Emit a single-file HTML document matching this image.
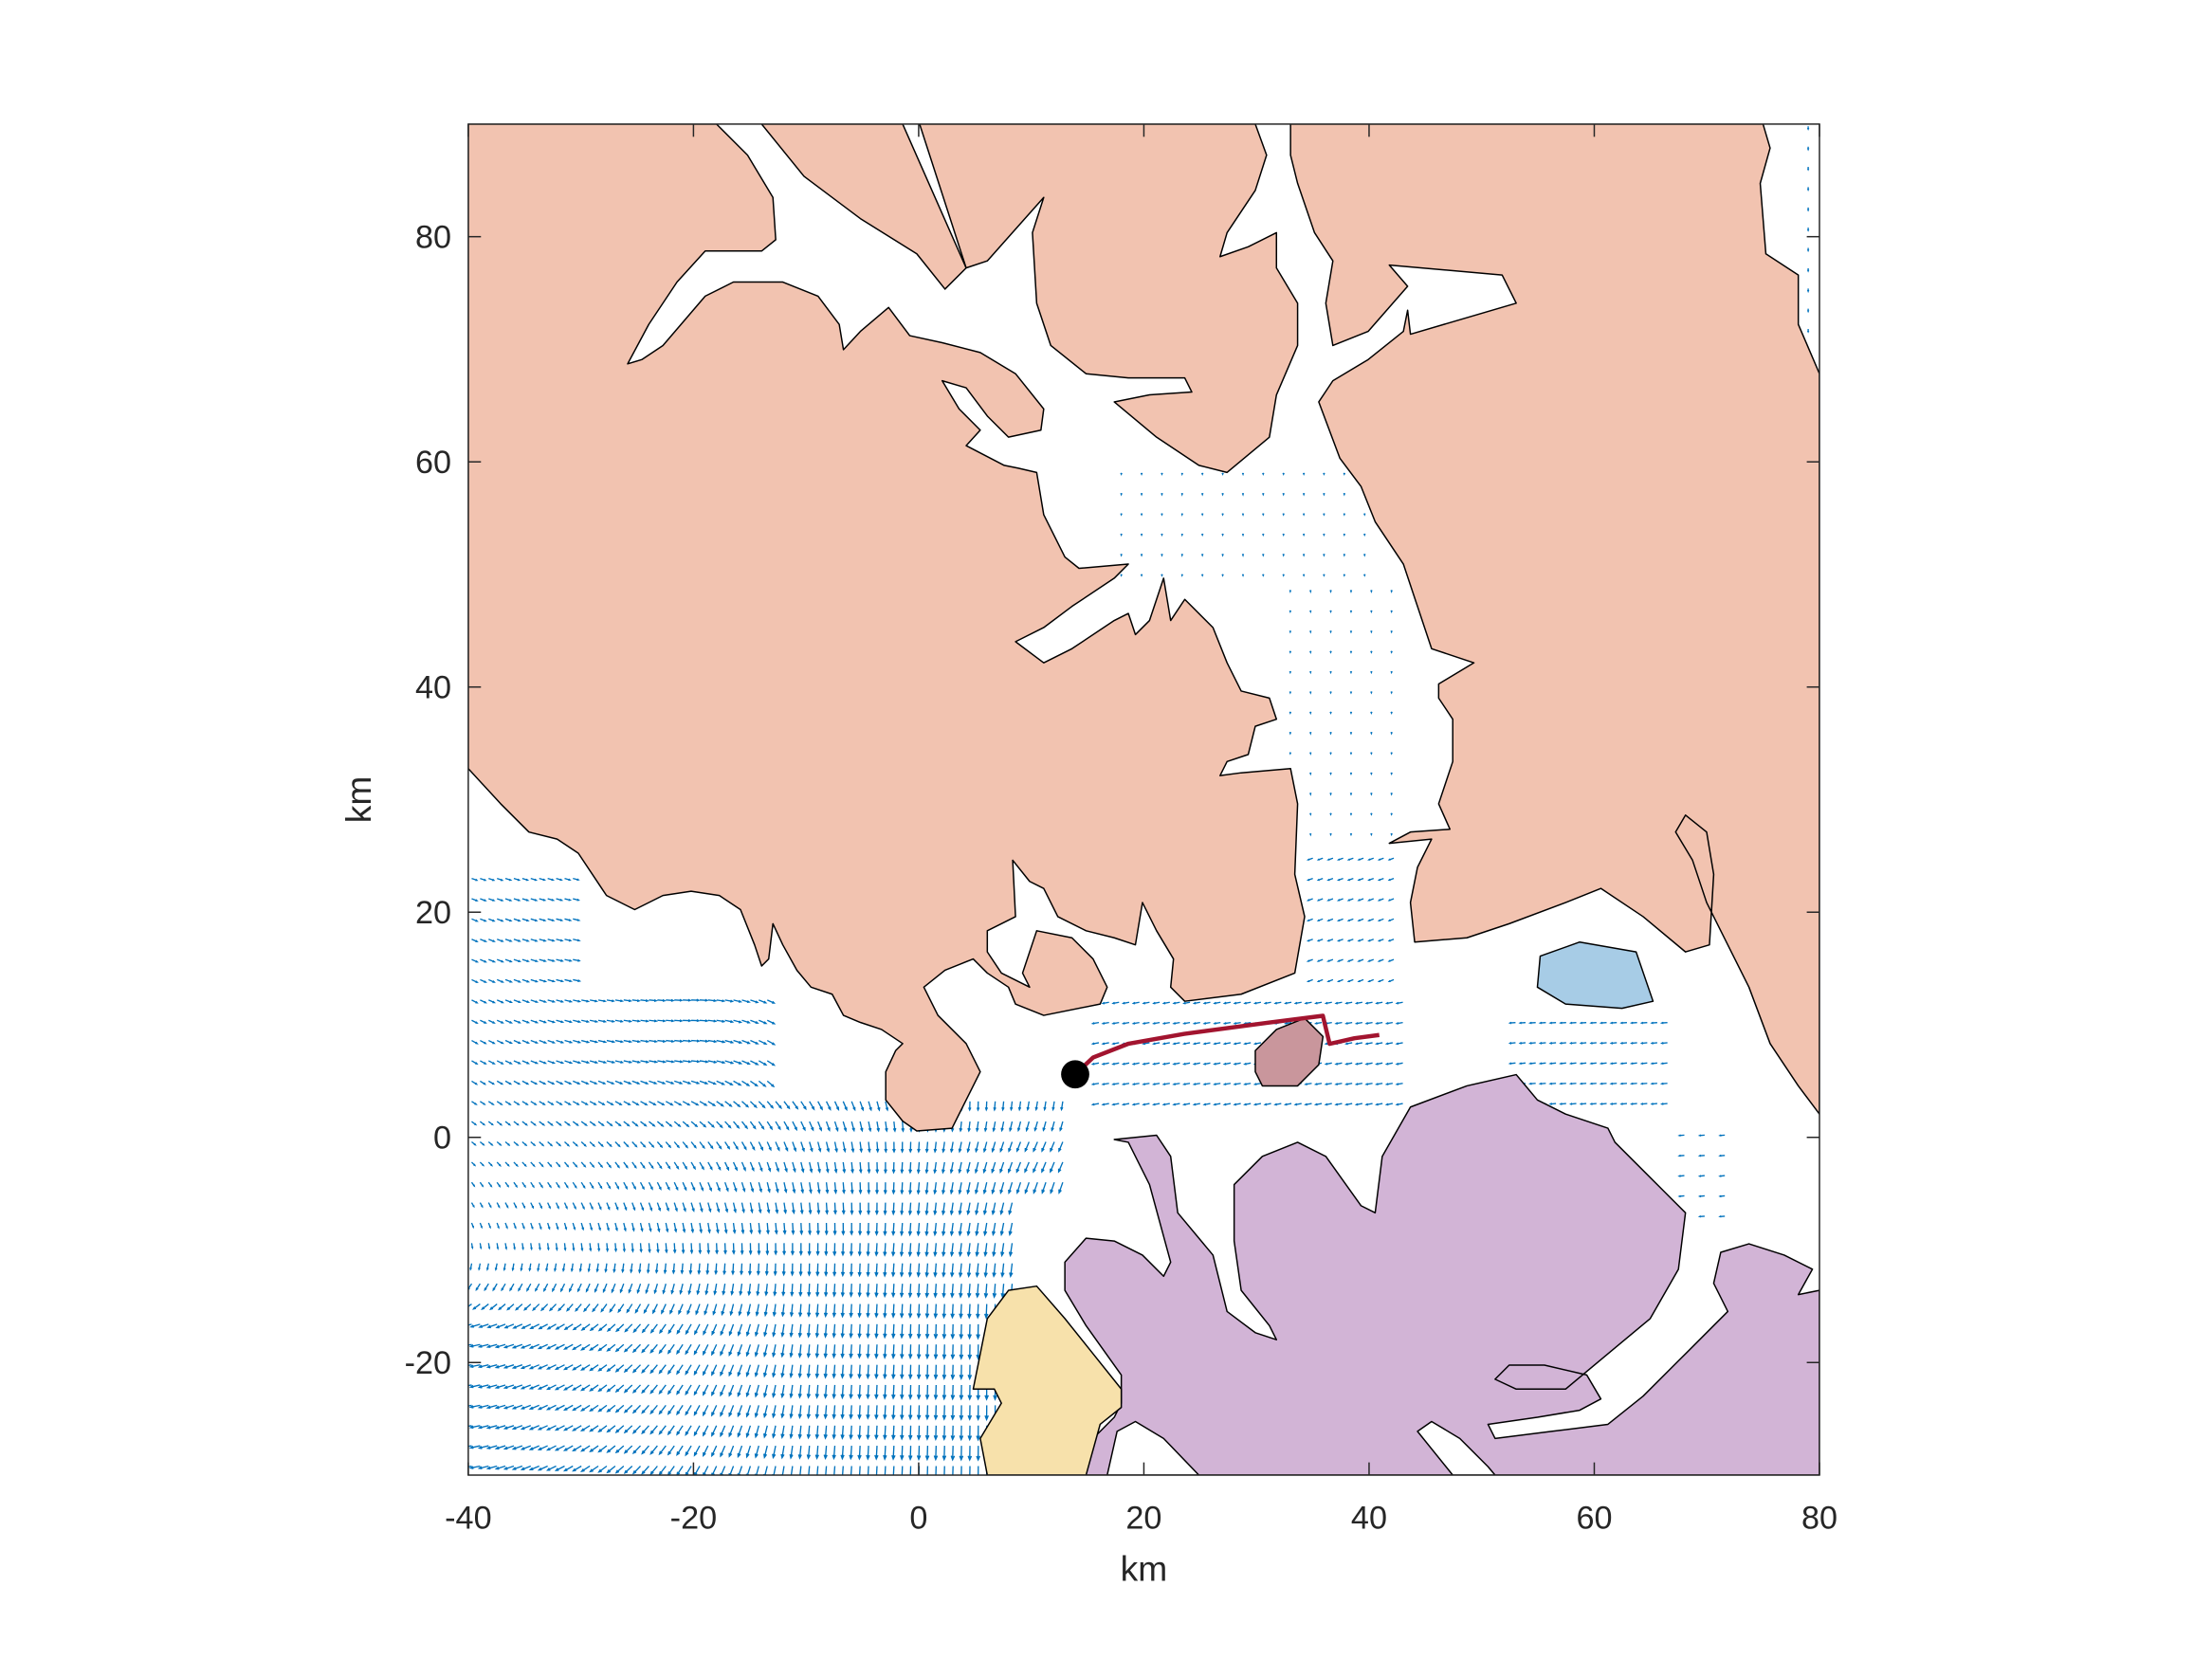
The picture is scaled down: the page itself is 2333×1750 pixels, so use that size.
<!DOCTYPE html>
<html><head><meta charset="utf-8">
<style>
html,body{margin:0;padding:0;background:#fff;}
svg{display:block;}
text{font-family:"Liberation Sans",Arial,sans-serif;fill:#262626;}
</style></head>
<body>
<svg id="chart" width="2333" height="1750" viewBox="0 0 1568.3 1176.4" xmlns="http://www.w3.org/2000/svg">
<rect x="0" y="0" width="1568.3" height="1176.4" fill="#fff"/>
<defs><clipPath id="plotclip"><rect x="332" y="88" width="958" height="958"/></clipPath></defs>
<g id="quiver" clip-path="url(#plotclip)"></g>
<g id="land" clip-path="url(#plotclip)" stroke="#000" stroke-width="1" stroke-linejoin="round">
<polygon fill="#F2C3B0" points="332,88 508,88 530,110 548,140 550,170 540,178 500,178 480,200 460,230 445,258 455,255 470,245 500,210 520,200 555,200 580,210 595,230 598,248 610,235 630,218 645,238 668,243 695,250 720,265 740,290 738,305 715,310 700,295 685,275 668,270 680,290 695,305 685,316 712,330 722,332 735,335 740,365 755,395 765,403 800,400 790,410 760,430 740,445 720,455 740,470 760,460 790,440 800,435 805,450 815,440 825,410 830,440 840,425 860,445 870,470 880,490 900,495 905,510 890,515 885,535 870,540 865,550 880,548 915,545 920,570 918,620 925,650 918,690 880,705 840,710 830,700 832,680 820,660 810,640 805,670 790,665 770,660 750,650 740,630 730,625 718,610 720,650 700,660 700,675 710,690 730,700 725,690 735,660 760,665 775,680 785,700 780,712 740,720 720,712 715,700 700,690 690,680 670,688 655,700 665,720 685,740 695,760 685,780 675,800 650,802 640,795 628,780 628,760 635,745 640,740 625,730 610,725 598,720 590,705 575,700 565,688 555,670 548,655 545,680 540,685 535,670 525,645 510,635 490,632 470,635 450,645 430,635 410,605 395,595 375,590 355,570 332,545"/>
<polygon fill="#F2C3B0" points="540,88 640,88 685,190 670,205 650,180 610,155 570,125"/>
<polygon fill="#F2C3B0" points="652,88 890,88 898,110 890,135 870,165 865,182 885,175 905,165 905,190 920,215 920,245 905,280 900,310 870,335 850,330 820,310 790,285 815,280 845,278 840,268 800,268 770,265 745,245 735,215 732,165 740,140 700,185 685,190"/>
<polygon fill="#F2C3B0" points="915,88 1250,88 1255,105 1248,130 1252,180 1275,195 1275,230 1290,265 1290,790 1275,770 1255,740 1240,700 1225,670 1210,640 1200,610 1188,590 1195,578 1210,590 1215,620 1212,670 1195,675 1165,650 1135,630 1110,640 1070,655 1040,665 1003,668 1000,640 1005,615 1015,595 985,598 1000,590 1028,588 1020,570 1030,540 1030,510 1020,495 1020,485 1045,470 1015,460 1005,430 995,400 975,370 965,345 950,325 935,285 945,270 970,255 995,235 998,220 1000,237 1075,215 1065,195 985,188 998,203 970,235 945,245 940,215 945,185 932,165 920,130 915,110"/>
<polygon fill="#D2B4D6" points="790,808 800,810 815,840 830,895 825,905 810,890 790,880 770,878 755,895 755,915 770,940 795,975 795,995 790,1005 775,1020 770,1046 1290,1046 1290,915 1275,918 1285,900 1265,890 1240,882 1220,888 1215,910 1225,930 1215,940 1190,965 1165,990 1140,1010 1100,1015 1060,1020 1055,1010 1090,1005 1120,1000 1135,992 1125,975 1095,968 1070,968 1060,978 1075,985 1110,985 1140,960 1170,935 1190,900 1195,860 1180,845 1165,830 1145,810 1140,800 1110,790 1090,780 1075,762 1040,770 1000,785 980,820 975,860 965,855 940,820 920,810 895,820 875,840 875,880 880,915 900,940 905,950 890,945 870,930 860,890 835,860 830,820 820,805"/>
<polygon fill="#fff" points="785,1046 792,1015 805,1008 825,1020 850,1046"/>
<polygon fill="#fff" points="1005,1015 1015,1008 1035,1020 1055,1040 1060,1046 1030,1046"/>
<polygon fill="#F7E1AB" points="700,1046 695,1020 710,995 705,985 690,985 695,960 700,935 715,915 735,912 755,935 775,960 795,985 795,998 780,1010 770,1046"/>
<polygon fill="#A7CCE6" points="1092,678 1120,668 1160,675 1172,710 1150,715 1110,712 1090,700"/>
<polygon fill="#C9969C" points="890,745 905,730 925,722 938,735 935,755 920,770 895,770 890,760"/>
</g>
<g id="track"></g>
<g id="axes"></g>
</svg>
<script>
// ---- data ----
const xTicks=[-40,-20,0,20,40,60,80];
const yTicks=[-20,0,20,40,60,80];
const trackX=[13.9,15.5,18.6,23.6,31.1,35.9,36.5,38.7,40.9];
const trackY=[5.6,7.1,8.3,9.2,10.2,10.8,8.3,8.8,9.1];
const startX=[13.9];
const startY=[5.6];
// coarse flow-field samples (direction deg, length km)
const fieldGridX=[-40,-30,-20,-10,0,10];
const fieldGridY=[23,15,5,-5,-15,-25];
const fieldAngle=[
 [-20,-15,-10,-30,-60,-75],
 [-25,-10,0,-30,-60,-75],
 [-30,-15,-5,-45,-75,-85],
 [-40,-45,-55,-75,-95,-115],
 [-75,-80,-85,-90,-95,-100],
 [-170,-150,-120,-95,-92,-90]];
const fieldLen=[
 [.5,.5,.5,.5,.5,.5],
 [.55,.6,.65,.65,.65,.65],
 [.55,.65,.7,.75,.7,.6],
 [.4,.5,.65,.85,.9,.9],
 [.4,.6,.85,1.0,1.1,1.1],
 [.85,.85,.95,1.1,1.2,1.3]];
// secondary regions: [x0,x1,y0,y1]
const regionBounds=[[16,43,3,13],[35,43,14,26],[33,43,27,50],[18,40,50,60],[53,67,3,11],[68,72,-7,1],[79,80,70,90]];
const regionAngle=[-170,-160,-90,-90,-175,-175,-90];
const regionLen=[0.55,0.45,0.12,0.1,0.5,0.45,0.25];

// ---- axes functions ----
const X0=332,X1=1290,Y0=1046,Y1=88;
function X(v){return X0+(v+40)/120*(X1-X0);}
function Y(v){return Y0-(v+30)/120*(Y0-Y1);}
const NS='http://www.w3.org/2000/svg';
function mk(tag,attrs,parent){const e=document.createElementNS(NS,tag);for(const k in attrs)e.setAttribute(k,attrs[k]);parent.appendChild(e);return e;}

function sampleField(x,y){
  const cx=Math.max(0,Math.min(fieldGridX.length-1.0001,(x-fieldGridX[0])/(fieldGridX[1]-fieldGridX[0])));
  const cy=Math.max(0,Math.min(fieldGridY.length-1.0001,(fieldGridY[0]-y)/(fieldGridY[0]-fieldGridY[1])));
  const i=Math.floor(cx),j=Math.floor(cy),fx=cx-i,fy=cy-j;
  function bl(A){return A[j][i]*(1-fx)*(1-fy)+A[j][i+1]*fx*(1-fy)+A[j+1][i]*(1-fx)*fy+A[j+1][i+1]*fx*fy;}
  return [bl(fieldAngle),bl(fieldLen)];
}
const qg=document.getElementById('quiver');
function arrow(x,y,ang,len){
  const a=ang*Math.PI/180;
  const x1=X(x),y1=Y(y),x2=X(x+len*Math.cos(a)),y2=Y(y+len*Math.sin(a));
  const hl=Math.max(1,len*7.98*0.3);
  const ba=Math.atan2(y1-y2,x1-x2);
  let d='M'+x1.toFixed(1)+' '+y1.toFixed(1)+'L'+x2.toFixed(1)+' '+y2.toFixed(1);
  d+='M'+(x2+hl*Math.cos(ba+0.4)).toFixed(1)+' '+(y2+hl*Math.sin(ba+0.4)).toFixed(1)+'L'+x2.toFixed(1)+' '+y2.toFixed(1)+'L'+(x2+hl*Math.cos(ba-0.4)).toFixed(1)+' '+(y2+hl*Math.sin(ba-0.4)).toFixed(1);
  return d;
}
let dq='';
for(let y=23;y>=-30;y-=1.8){
  let xmax;
  if(y>13.5)xmax=-30;else if(y>3.5)xmax=-13;else if(y>-5.5)xmax=13;else xmax=8.5;
  for(let x=-39.7;x<=xmax;x+=0.75){
    const s=sampleField(x,y);
    dq+=arrow(x,y,s[0],s[1]);
  }
}
for(let r=0;r<regionBounds.length;r++){
  const b=regionBounds[r];
  for(let y=b[2];y<=b[3];y+=1.8){
    for(let x=b[0];x<=b[1];x+=(r>=2&&r!=4?1.8:0.9)){
      dq+=arrow(x,y,regionAngle[r],regionLen[r]);
    }
  }
}
const qp=mk('path',{d:dq,stroke:'#0072BD','stroke-width':'0.9',fill:'none'},qg);



// track
const tg=document.getElementById('track');
let pts=trackX.map((v,i)=>X(v).toFixed(1)+','+Y(trackY[i]).toFixed(1)).join(' ');
const tl=mk('polyline',{points:pts,fill:'none',stroke:'#A2142F','stroke-width':'3','stroke-linejoin':'round'},tg);


const sd=mk('circle',{cx:X(startX[0]),cy:Y(startY[0]),r:10,fill:'#000'},tg);



// axes
const ag=document.getElementById('axes');
const box=mk('rect',{x:X0,y:Y1,width:X1-X0,height:Y0-Y1,fill:'none',stroke:'#262626','stroke-width':'1'},ag);


xTicks.forEach(v=>{
  const x=X(v);
  mk('line',{x1:x,y1:Y0,x2:x,y2:Y0-9,stroke:'#262626'},ag);
  mk('line',{x1:x,y1:Y1,x2:x,y2:Y1+9,stroke:'#262626'},ag);
  const t=mk('text',{x:x,y:Y0+38,'text-anchor':'middle','font-size':'23'},ag);
  t.textContent=String(v);
  
  
});
yTicks.forEach(v=>{
  const y=Y(v);
  mk('line',{x1:X0,y1:y,x2:X0+9,y2:y,stroke:'#262626'},ag);
  mk('line',{x1:X1,y1:y,x2:X1-9,y2:y,stroke:'#262626'},ag);
  const t=mk('text',{x:X0-12,y:y+8,'text-anchor':'end','font-size':'23'},ag);
  t.textContent=String(v);
  
  
});
const xl=mk('text',{x:(X0+X1)/2,y:Y0+75,'text-anchor':'middle','font-size':'25'},ag);
xl.textContent='km';


const yl=mk('text',{x:263,y:(Y0+Y1)/2,'text-anchor':'middle','font-size':'25',transform:'rotate(-90 263 '+((Y0+Y1)/2)+')'},ag);
yl.textContent='km';


</script>
</body></html>
